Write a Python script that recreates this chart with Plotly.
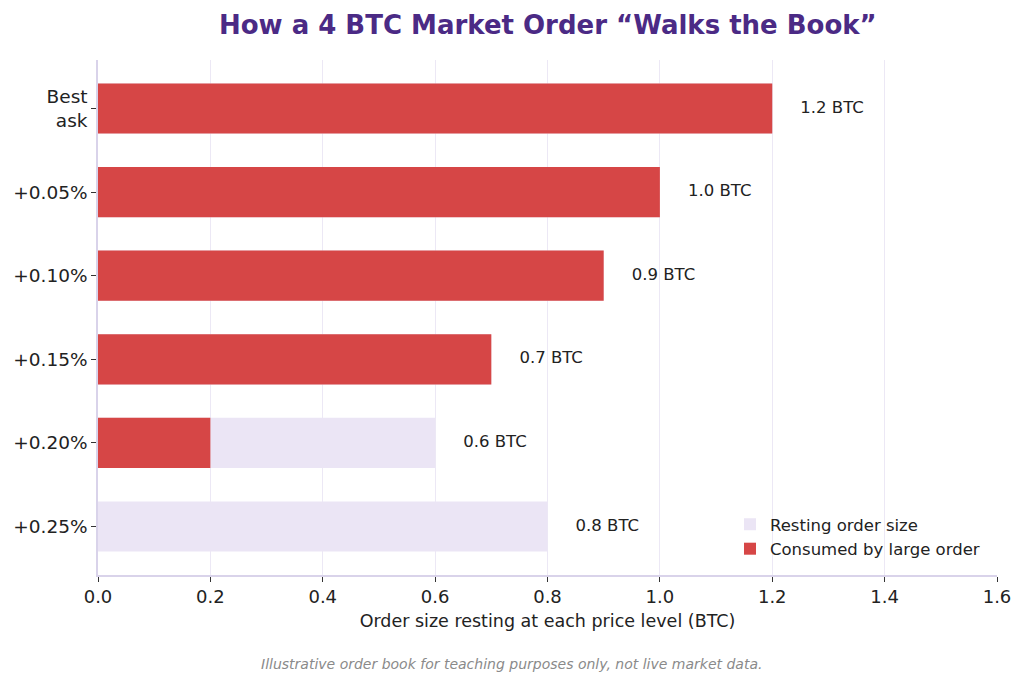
import plotly.graph_objects as go

levels = ["Best<br>ask", "+0.05%", "+0.10%", "+0.15%", "+0.20%", "+0.25%"]
resting = [1.2, 1.0, 0.9, 0.7, 0.6, 0.8]
consumed = [1.2, 1.0, 0.9, 0.7, 0.2, 0.0]
labels = ["1.2 BTC", "1.0 BTC", "0.9 BTC", "0.7 BTC", "0.6 BTC", "0.8 BTC"]
label_offset = 0.05

RED = "#D64646"
LAV = "#EBE5F5"
GRID = "#ECE8F5"
SPINE = "#D9D3EA"

fig = go.Figure()
fig.add_trace(go.Bar(
    y=levels, x=resting, orientation="h", name="Resting order size",
    marker=dict(color=LAV, line=dict(width=0)), width=0.6,
))
fig.add_trace(go.Bar(
    y=levels, x=consumed, orientation="h", name="Consumed by large order",
    marker=dict(color=RED, line=dict(width=0)), width=0.6,
))
fig.add_trace(go.Scatter(
    y=levels, x=[r + label_offset for r in resting], mode="text",
    text=labels, textposition="middle right",
    textfont=dict(family="DejaVu Sans", size=16.5, color="#222222"),
    showlegend=False, hoverinfo="skip",
))

fig.update_layout(
    width=1024, height=685,
    barmode="overlay",
    paper_bgcolor="white", plot_bgcolor="white",
    margin=dict(l=98, r=27, t=60, b=110),
    font=dict(family="DejaVu Sans", color="#222222", size=16),
    title=dict(
        text="<b>How a 4 BTC Market Order \u201cWalks the Book\u201d</b>",
        x=0.535, xanchor="center", y=0.964, yanchor="middle",
        font=dict(family="DejaVu Sans", size=26, color="#4B2A85"),
    ),
    legend=dict(
        x=0.703, y=0.132, xanchor="left", yanchor="top",
        bgcolor="rgba(255,255,255,0)", borderwidth=0,
        font=dict(family="DejaVu Sans", size=16.5, color="#222222"),
        traceorder="normal", itemwidth=30,
    ),
    showlegend=True,
)
fig.update_xaxes(
    range=[0, 1.6], tickvals=[0, 0.2, 0.4, 0.6, 0.8, 1.0, 1.2, 1.4, 1.6],
    ticktext=["0.0", "0.2", "0.4", "0.6", "0.8", "1.0", "1.2", "1.4", "1.6"],
    showgrid=True, gridcolor=GRID, gridwidth=1,
    showline=True, linecolor=SPINE, linewidth=1.5,
    ticks="outside", ticklen=5, tickcolor="#333333", tickwidth=1,
    tickfont=dict(size=18), zeroline=False,
    title=dict(text="Order size resting at each price level (BTC)", font=dict(size=17.5), standoff=8),
)
fig.update_yaxes(
    range=[5.58, -0.58], showgrid=False,
    showline=True, linecolor=SPINE, linewidth=1.5,
    ticks="outside", ticklen=5, tickcolor="#333333", tickwidth=1,
    tickfont=dict(size=18.5),
)
fig.add_annotation(
    text="<i>Illustrative order book for teaching purposes only, not live market data.</i>",
    xref="paper", yref="paper", x=0.4605, y=-0.172, xanchor="center", yanchor="middle",
    showarrow=False, font=dict(family="DejaVu Sans", size=14, color="#8A8A8A"),
)

fig.write_html("out.html")
